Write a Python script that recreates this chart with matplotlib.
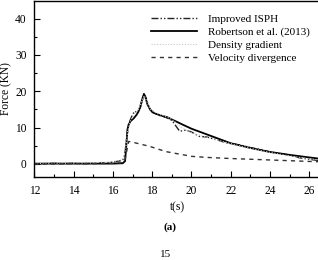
import matplotlib
matplotlib.use("Agg")
import matplotlib.pyplot as plt
from matplotlib.ticker import MultipleLocator

plt.rcParams['font.family'] = ['Liberation Serif', 'DejaVu Serif']
plt.rcParams['mathtext.fontset'] = 'stix'

# Improved ISPH
isph_t = [12, 12.5, 13, 13.5, 14, 14.5, 15, 15.5, 16, 16.3, 16.5, 16.6, 16.7, 16.8, 16.95,
          17.1, 17.25, 17.4, 17.5, 17.6, 17.7, 17.85, 18.0, 18.3, 18.7, 19.0, 19.2, 19.4,
          19.7, 20.0, 20.4, 20.8, 21.2, 21.8, 22.5, 23.0, 23.5, 24.0, 24.5, 25.0, 25.5, 26.0, 26.6]
isph_F = [0.0, 0.1, 0.2, 0.1, 0.2, 0.1, 0.2, 0.3, 0.5, 0.8, 1.0, 2.5, 7.0, 11.0, 13.0,
          14.5, 14.2, 15.5, 17.5, 19.0, 18.0, 15.5, 14.2, 13.5, 12.8, 12.0, 10.5, 9.0,
          9.3, 8.8, 7.6, 7.4, 6.8, 5.8, 5.2, 4.5, 4.0, 3.3, 2.9, 2.4, 1.7, 1.3, 0.8]

# Robertson et al. (2013)
rob_t = [12, 13, 14, 15, 16, 16.5, 16.62, 16.68, 16.74, 16.8, 16.9, 17.05, 17.2, 17.3, 17.4,
         17.5, 17.58, 17.65, 17.75, 17.9, 18.1, 18.4, 18.75, 19.1, 19.6, 20.0, 20.5, 21.0,
         22.0, 23.0, 24.0, 25.0, 26.0, 26.6]
rob_F = [0.1, 0.1, 0.1, 0.1, 0.1, 0.2, 0.8, 5.0, 9.5, 10.8, 11.8, 12.5, 13.5, 14.4, 16.0,
         18.0, 19.3, 18.5, 16.5, 14.9, 14.0, 13.4, 12.9, 12.0, 10.7, 9.7, 8.7, 7.7,
         5.7, 4.4, 3.3, 2.5, 1.8, 1.4]

# Density gradient
dens_t = [12, 13, 14, 15, 16, 16.5, 16.65, 16.75, 16.9, 17.1, 17.3, 17.5, 17.6, 17.7, 17.9,
          18.2, 18.6, 19.0, 19.5, 20.0, 20.5, 21.0, 21.5, 22.0, 23.0, 24.0, 25.0, 26.0, 26.6]
dens_F = [0.1, 0.2, 0.2, 0.3, 0.6, 1.2, 4.0, 9.0, 12.0, 13.8, 15.0, 17.8, 18.8, 17.5, 15.0,
          14.0, 13.2, 12.3, 10.0, 8.6, 7.8, 7.0, 6.3, 5.6, 4.3, 3.2, 2.2, 1.4, 1.0]

# Velocity divergence
vel_t = [12, 13, 14, 15, 16, 16.4, 16.6, 16.7, 16.8, 17.0, 17.3, 17.9, 18.7, 19.6, 20.0,
         20.8, 22.0, 23.0, 24.0, 25.0, 26.0, 26.6]
vel_F = [0.0, 0.0, 0.1, 0.1, 0.2, 0.3, 0.8, 3.5, 6.2, 6.0, 5.6, 4.8, 3.4, 2.5, 2.1,
         1.8, 1.5, 1.3, 1.1, 0.9, 0.7, 0.6]

xticks = [12, 14, 16, 18, 20, 22, 24, 26]
yticks = [0, 10, 20, 30, 40]

fig = plt.figure(figsize=(3.18, 2.60), dpi=100)
ax = fig.add_axes([0.108, 0.319, 0.9, 0.678])

ax.plot(isph_t, isph_F, color='#222222', lw=1.0,
        linestyle=(0, (5, 1.5, 1, 1.5, 1, 1.5)), label='Improved ISPH')
ax.plot(rob_t, rob_F, color='black', lw=1.3, linestyle='-', label='Robertson et al. (2013)')
ax.plot(dens_t, dens_F, color='#c8c8c8', lw=0.8, linestyle=(0, (1, 1.5)), label='Density gradient')
ax.plot(vel_t, vel_F, color='#333333', lw=1.0, linestyle=(0, (3, 3)), label='Velocity divergence')

ax.set_xlim(12, 26.57)
ax.set_ylim(-3.6, 44.9)
ax.set_xticks(xticks)
ax.set_yticks(yticks)
ax.xaxis.set_minor_locator(MultipleLocator(1))
ax.yaxis.set_minor_locator(MultipleLocator(5))
ax.tick_params(which='both', direction='in', labelsize=8.3)
ax.tick_params(which='major', length=4, width=0.8, pad=5.5)
ax.tick_params(which='minor', length=2, width=0.8)
for s in ax.spines.values():
    s.set_linewidth(1.0)

ax.set_xlabel('t(s)', fontsize=8.3, labelpad=3)
ax.set_ylabel('Force (KN)', fontsize=8.3, labelpad=2)

ax.legend(loc='upper left', bbox_to_anchor=(0.408, 0.925), frameon=False, fontsize=8,
          handlelength=4.1, handletextpad=1.0, labelspacing=0.3, borderpad=0,
          borderaxespad=0)

fig.text(0.535, 0.127, '(a)', fontsize=8, fontweight='bold', ha='center', va='center')
fig.text(0.52, 0.002, '15', fontsize=8, ha='center', va='bottom')

fig.savefig('out.png', dpi=100)
